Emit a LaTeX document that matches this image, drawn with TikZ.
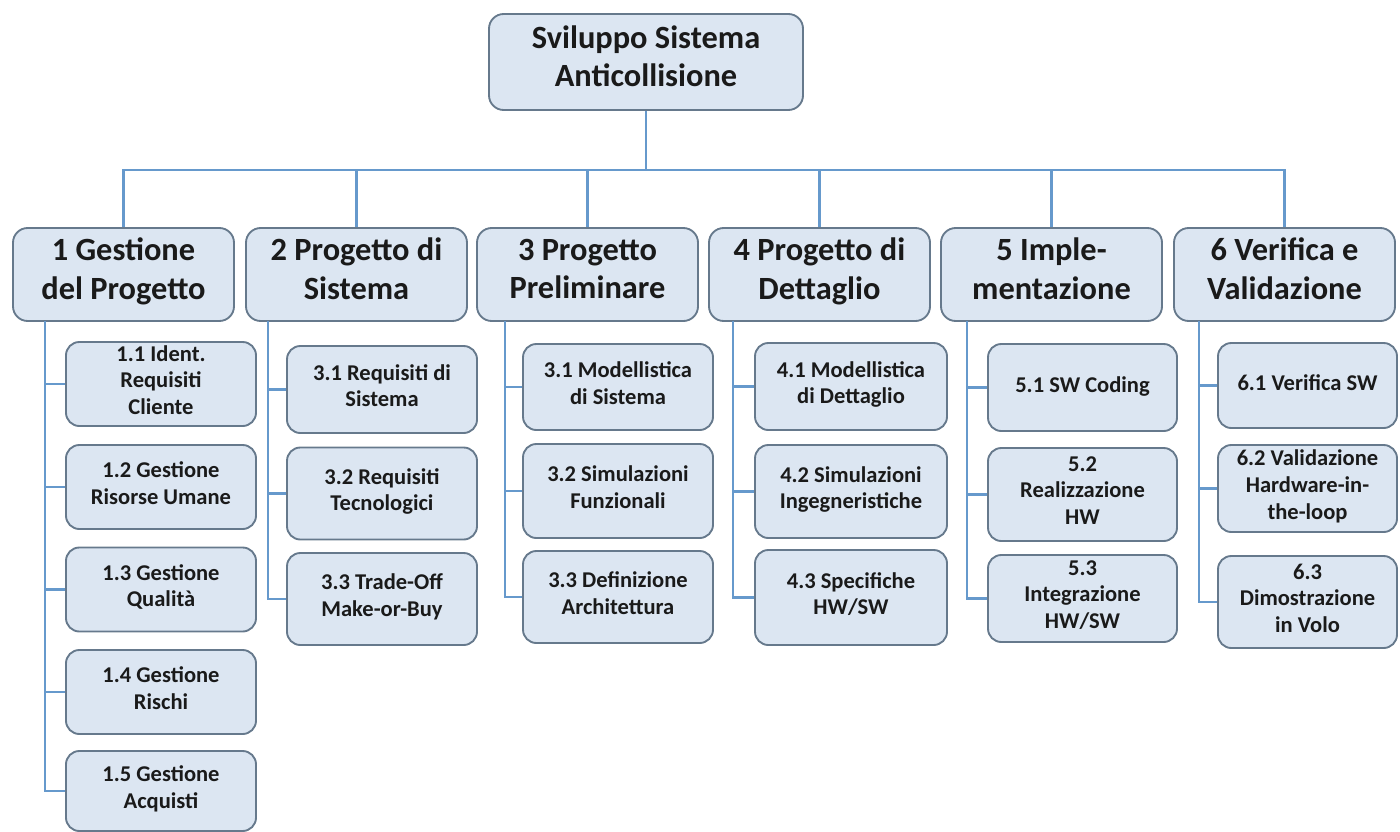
\documentclass[tikz,border=0pt]{standalone}
\usepackage{fontspec}
\setmainfont{Carlito}
\definecolor{boxfill}{HTML}{DCE6F2}
\definecolor{boxline}{HTML}{66798C}
\definecolor{linkblue}{HTML}{6699CC}
\definecolor{inktext}{HTML}{1A1A1A}
\tikzset{
  wh/.style 2 args={minimum width=#1*0.75pt, minimum height=#2*0.75pt},
  basebox/.style={draw=boxline, line width=1.4pt, fill=boxfill, text=inktext,
    align=center, inner sep=0pt, rounded corners=11pt,
    execute at begin node=\strut,
    execute at end node={\rule[-0.15em]{0pt}{0.15em}}},
  rootbox/.style={basebox, font=\fontsize{24.3pt}{28.8pt}\selectfont\bfseries},
  topbox/.style={basebox, font=\fontsize{24.3pt}{28.8pt}\selectfont\bfseries},
  subbox/.style={basebox, rounded corners=10pt, font=\fontsize{16.9pt}{20pt}\selectfont\bfseries},
  conn/.style={draw=linkblue, line width=1.9pt}
}
\begin{document}
\begin{tikzpicture}[x=0.75pt,y=-0.75pt]
\useasboundingbox (0,0) rectangle (1400,832);

% root
\node[rootbox, wh={314}{96}] (root) at (646,62) {Sviluppo Sistema\\Anticollisione};

% first level
\node[topbox, wh={221}{93}] (g1) at (123.5,274.5) {1 Gestione\\del Progetto};
\node[topbox, wh={221}{93}] (g2) at (356.5,274.5) {2 Progetto di\\Sistema};
\node[topbox, wh={221}{93}] (g3) at (587.5,274.5) {3 Progetto\\Preliminare};
\node[topbox, wh={221}{93}] (g4) at (819.5,274.5) {4 Progetto di\\Dettaglio};
\node[topbox, wh={221}{93}] (g5) at (1051.5,274.5) {5 Imple-\\mentazione};
\node[topbox, wh={221}{93}] (g6) at (1284.5,274.5) {6 Verifica e\\Validazione};

% second level, column 1
\node[subbox, wh={190}{84}] (c11) at (161,384) {1.1 Ident.\\Requisiti\\Cliente};
\node[subbox, wh={190}{84}] (c12) at (161,487) {1.2 Gestione\\Risorse Umane};
\node[subbox, wh={190}{84}] (c13) at (161,589.5) {1.3 Gestione\\Qualità};
\node[subbox, wh={190}{84}] (c14) at (161,692) {1.4 Gestione\\Rischi};
\node[subbox, wh={190}{80}] (c15) at (161,791) {1.5 Gestione\\Acquisti};

% column 2
\node[subbox, wh={190}{87}] (c21) at (382,389.5) {3.1 Requisiti di\\Sistema};
\node[subbox, wh={190}{92}] (c22) at (382,493.5) {3.2 Requisiti\\Tecnologici};
\node[subbox, wh={190}{92}] (c23) at (382,599) {3.3 Trade-Off\\Make-or-Buy};

% column 3
\node[subbox, wh={190}{86}] (c31) at (618,387) {3.1 Modellistica\\di Sistema};
\node[subbox, wh={190}{94}] (c32) at (618,491) {3.2 Simulazioni\\Funzionali};
\node[subbox, wh={190}{92}] (c33) at (618,597) {3.3 Definizione\\Architettura};

% column 4
\node[subbox, wh={192}{87}] (c41) at (851,386.5) {4.1 Modellistica\\di Dettaglio};
\node[subbox, wh={192}{93}] (c42) at (851,491.5) {4.2 Simulazioni\\Ingegneristiche};
\node[subbox, wh={192}{95}] (c43) at (851,597.5) {4.3 Specifiche\\HW/SW};

% column 5
\node[subbox, wh={189}{87}] (c51) at (1082.5,387.5) {5.1 SW Coding};
\node[subbox, wh={189}{93}] (c52) at (1082.5,494.5) {5.2\\Realizzazione\\HW};
\node[subbox, wh={189}{87}] (c53) at (1082.5,598.5) {5.3\\Integrazione\\HW/SW};

% column 6
\node[subbox, wh={179}{85}] (c61) at (1307.5,385.5) {6.1 Verifica SW};
\node[subbox, wh={179}{87}] (c62) at (1307.5,488.5) {6.2 Validazione\\Hardware-in-\\the-loop};
\node[subbox, wh={179}{92}] (c63) at (1307.5,602) {6.3\\Dimostrazione\\in Volo};

% trunk and bus
\coordinate (bus) at (646,170);
\draw[conn] (root.south) -- (bus);
\draw[conn] (g1.north) -- (g1.north |- bus) -- (g6.north |- bus) -- (g6.north);
\foreach \g in {g2,g3,g4,g5}
  \draw[conn] (\g.north) -- (\g.north |- bus);

% column spines
\coordinate (s1) at (45,321);
\coordinate (s2) at (268,321);
\coordinate (s3) at (505,321);
\coordinate (s4) at (733,321);
\coordinate (s5) at (967,321);
\coordinate (s6) at (1199,321);

\draw[conn] (s1) |- (c15.west);
\foreach \c in {c11,c12,c13,c14} \draw[conn] (\c.west) -- (\c.west -| s1);
\draw[conn] (s2) |- (c23.west);
\foreach \c in {c21,c22} \draw[conn] (\c.west) -- (\c.west -| s2);
\draw[conn] (s3) |- (c33.west);
\foreach \c in {c31,c32} \draw[conn] (\c.west) -- (\c.west -| s3);
\draw[conn] (s4) |- (c43.west);
\foreach \c in {c41,c42} \draw[conn] (\c.west) -- (\c.west -| s4);
\draw[conn] (s5) |- (c53.west);
\foreach \c in {c51,c52} \draw[conn] (\c.west) -- (\c.west -| s5);
\draw[conn] (s6) |- (c63.west);
\foreach \c in {c61,c62} \draw[conn] (\c.west) -- (\c.west -| s6);
\end{tikzpicture}
\end{document}
